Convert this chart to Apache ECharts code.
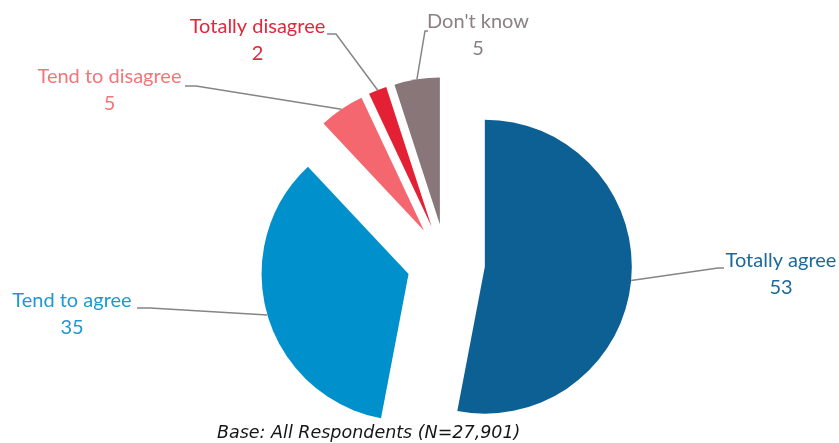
<!DOCTYPE html>
<html>
<head>
<meta charset="utf-8">
<script src="https://cdn.jsdelivr.net/npm/echarts@6/dist/echarts.min.js"></script>
<style>html,body{margin:0;padding:0;background:#fff}#c{width:839px;height:443px}</style>
</head>
<body>
<div id="c"></div>
<script>
var categories = ['Totally agree', 'Tend to agree', 'Tend to disagree', 'Totally disagree', "Don't know"];
var values = [53, 35, 5, 2, 5];
var sliceColors = ['#0D6094', '#0091CC', '#F4676F', '#E32034', '#897679'];
var labelColors = ['#1A6A9C', '#1B9AD2', '#F4747A', '#E0273B', '#8C7F82'];
// label block centres, label-line elbow and end points (layout only)
var labelPos = [[781, 274], [72, 314], [109.5, 90], [257.5, 40], [478, 35]];
var lineElbow = [[718, 268], [150, 308], [196, 86], [336, 34], [425, 31]];
var lineEnd = [[724, 268], [137, 308], [185, 86], [327, 34], [428, 31]];

var pieCenter = [446, 263];
var pieRadius = 147;
var explode = 39;

var chart = echarts.init(document.getElementById('c'));
chart.setOption({
  animation: false,
  title: {
    text: 'Base: All Respondents (N=27,901)',
    left: 212, top: 419,
    textStyle: { fontFamily: 'DejaVu Sans', fontStyle: 'italic', fontWeight: 'normal', fontSize: 17.5, color: '#161616' }
  },
  series: [{
    type: 'pie',
    z: 2,
    center: pieCenter,
    radius: [0, pieRadius],
    startAngle: 90,
    clockwise: true,
    selectedMode: 'multiple',
    selectedOffset: explode,
    silent: true,
    data: categories.map(function (n, i) {
      return { name: n, value: values[i], selected: true, itemStyle: { color: sliceColors[i] } };
    }),
    label: { show: false },
    labelLine: { show: false },
    emphasis: { disabled: true }
  }, {
    type: 'pie',
    z: 3,
    center: pieCenter,
    radius: [0, pieRadius],
    startAngle: 90,
    clockwise: true,
    silent: true,
    avoidLabelOverlap: false,
    data: categories.map(function (n, i) {
      return { name: n, value: values[i], itemStyle: { color: 'rgba(0,0,0,0)' }, label: { color: labelColors[i] } };
    }),
    label: {
      show: true, position: 'outside',
      formatter: '{b}\n{c}',
      fontFamily: 'Lato', fontSize: 20, lineHeight: 27, align: 'center'
    },
    labelLine: { show: true, length: 20, length2: 8, lineStyle: { color: '#858585', width: 1.5 } },
    labelLayout: function (p) {
      var i = p.dataIndex;
      var q = labelPos[i];
      var p0 = p.labelLinePoints[0];
      var vx = p0[0] - pieCenter[0], vy = p0[1] - pieCenter[1];
      var len = Math.sqrt(vx * vx + vy * vy) || 1;
      var start = [p0[0] + vx / len * explode, p0[1] + vy / len * explode];
      return {
        x: q[0], y: q[1], align: 'center', verticalAlign: 'middle',
        labelLinePoints: [start, lineElbow[i], lineEnd[i]]
      };
    },
    emphasis: { disabled: true }
  }]
});
</script>
</body>
</html>
